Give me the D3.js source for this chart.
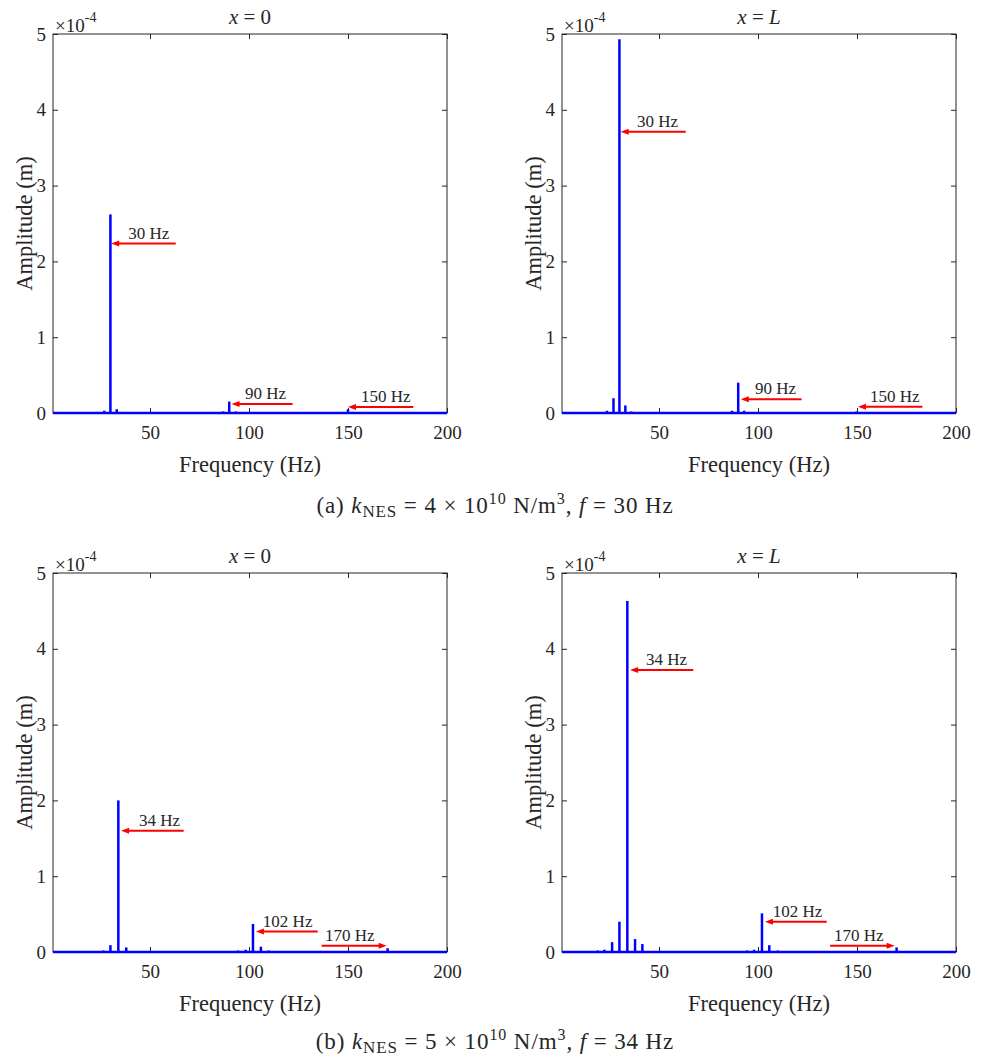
<!DOCTYPE html>
<html lang="en">
<head>
  <meta charset="UTF-8">
  <title>Amplitude spectra</title>
  <script src="https://d3js.org/d3.v7.min.js"></script>
  <style>
    body {
      margin: 0;
      padding: 0;
      background: #fff;
    }
    svg text {
      font-family: 'Liberation Serif', 'Times New Roman', serif;
      fill: #262626;
    }
  </style>
</head>
<body>
  <svg id="chart" width="987" height="1060"></svg>

  <script>
    // axes
    var freqDomain = [1, 200];
    var ampDomain = [0, 5];            // in units of 1e-4 m
    var freqTicks = [50, 100, 150, 200];
    var ampTicks = [0, 1, 2, 3, 4, 5];

    // spectral peaks: frequency (Hz) and amplitude (1e-4 m)
    var freqA0 = [26.9, 30, 33.2, 86.9, 90, 93.3, 146.8, 150];
    var ampA0  = [0.03, 2.62, 0.05, 0.02, 0.15, 0.02, 0.01, 0.05];

    var freqAL = [20.8, 23.7, 27, 30, 33, 36, 86.9, 90, 93, 149.8];
    var ampAL  = [0.01, 0.03, 0.195, 4.93, 0.10, 0.02, 0.03, 0.40, 0.03, 0.02];

    var freqB0 = [26.4, 30, 34, 38, 41.5, 94.5, 98.3, 102, 106, 110, 170, 174];
    var ampB0  = [0.02, 0.09, 2.0, 0.06, 0.01, 0.02, 0.03, 0.37, 0.07, 0.02, 0.05, 0.01];

    var freqBL = [11.6, 15, 19, 22.4, 26.3, 30, 34, 37.9, 41.6, 90.5, 94.5, 98, 102, 105.7, 110, 170, 174];
    var ampBL  = [0.01, 0.01, 0.02, 0.03, 0.13, 0.40, 4.63, 0.17, 0.105, 0.01, 0.02, 0.03, 0.51, 0.09, 0.02, 0.06, 0.01];

    // red arrow annotations: label, arrow level, arrow head / tail frequency, text start
    var notesA0 = [
      {label: '30 Hz',  amp: 2.235, head: 30.4,  tail: 63,    text: 39},
      {label: '90 Hz',  amp: 0.12,  head: 91.2,  tail: 122,   text: 98},
      {label: '150 Hz', amp: 0.08,  head: 150,   tail: 183,   text: 156.6}
    ];
    var notesAL = [
      {label: '30 Hz',  amp: 3.71,  head: 30.6,  tail: 63.5,  text: 38.9},
      {label: '90 Hz',  amp: 0.18,  head: 91.3,  tail: 122,   text: 98.5},
      {label: '150 Hz', amp: 0.083, head: 150.5, tail: 183,   text: 156.6}
    ];
    var notesB0 = [
      {label: '34 Hz',  amp: 1.6,   head: 35.4,  tail: 67,    text: 44.4},
      {label: '102 Hz', amp: 0.27,  head: 103.5, tail: 134.7, text: 107},
      {label: '170 Hz', amp: 0.083, head: 169.5, tail: 136.7, text: 138.4}
    ];
    var notesBL = [
      {label: '34 Hz',  amp: 3.72,  head: 35.4,  tail: 67.3,  text: 43.4},
      {label: '102 Hz', amp: 0.40,  head: 103.5, tail: 134.7, text: 107.4},
      {label: '170 Hz', amp: 0.083, head: 169,   tail: 136.4, text: 138.4}
    ];

    var svg = d3.select('#chart');
    var plotW = 394, plotH = 379;

    function drawPanel(left, top, title, freqs, amps, notes) {
      var g = svg.append('g').attr('transform', 'translate(' + [left, top] + ')');
      var x = d3.scaleLinear().domain(freqDomain).range([0, plotW]);
      var y = d3.scaleLinear().domain(ampDomain).range([plotH, 0]);
      var fmt = d3.format('d');

      // axes with inward ticks, MATLAB box style
      var axB = g.append('g').attr('transform', 'translate(0,' + plotH + ')')
        .call(d3.axisBottom(x).tickValues(freqTicks).tickFormat(fmt)
          .tickSizeInner(-5).tickSizeOuter(0).tickPadding(13));
      var axT = g.append('g')
        .call(d3.axisTop(x).tickValues(freqTicks).tickSizeInner(-5).tickSizeOuter(0).tickFormat(''));
      var axL = g.append('g')
        .call(d3.axisLeft(y).tickValues(ampTicks).tickFormat(fmt)
          .tickSizeInner(-5).tickSizeOuter(0).tickPadding(7));
      var axR = g.append('g').attr('transform', 'translate(' + plotW + ',0)')
        .call(d3.axisRight(y).tickValues(ampTicks).tickSizeInner(-5).tickSizeOuter(0).tickFormat(''));
      [axB, axT, axL, axR].forEach(function(a) {
        a.select('.domain').remove();
        a.selectAll('line').attr('stroke', '#262626');
        a.selectAll('text').style('font-size', '19px').attr('fill', '#262626');
      });
      g.append('rect')
        .attr('width', plotW).attr('height', plotH)
        .attr('fill', 'none').attr('stroke', '#262626').attr('stroke-width', 1);

      // exponent
      var ex = g.append('text').attr('x', 2).attr('y', -2).style('font-size', '19px');
      ex.append('tspan').text('\u00d710');
      ex.append('tspan').attr('dy', -10).style('font-size', '14px').text('-4');

      // title
      var t = g.append('text').attr('x', plotW / 2).attr('y', -10)
        .attr('text-anchor', 'middle').style('font-size', '21px');
      t.append('tspan').style('font-style', 'italic').text('x');
      t.append('tspan').text(' = ');
      if (title === 'L') {
        t.append('tspan').style('font-style', 'italic').text('L');
      } else {
        t.append('tspan').text(title);
      }

      // axis labels
      g.append('text').attr('x', plotW / 2).attr('y', plotH + 59)
        .attr('text-anchor', 'middle').style('font-size', '22.5px').text('Frequency (Hz)');
      g.append('text')
        .attr('transform', 'translate(-21,' + (plotH / 2) + ')rotate(-90)')
        .attr('text-anchor', 'middle').style('font-size', '22.5px').text('Amplitude (m)');

      // spectrum: baseline plus peaks
      g.append('line')
        .attr('x1', x(freqDomain[0])).attr('x2', x(freqDomain[1]))
        .attr('y1', y(0)).attr('y2', y(0))
        .attr('stroke', '#0000ff').attr('stroke-width', 2.5);
      g.selectAll('line.peak')
        .data(d3.zip(freqs, amps)).enter().append('line')
        .classed('peak', true)
        .attr('x1', function(d) {return x(d[0])})
        .attr('x2', function(d) {return x(d[0])})
        .attr('y1', y(0))
        .attr('y2', function(d) {return y(d[1])})
        .attr('stroke', '#0000ff').attr('stroke-width', 2.5);

      // arrows
      var ng = g.selectAll('g.note').data(notes).enter().append('g').classed('note', true);
      ng.append('line')
        .attr('x1', function(d) {return x(d.tail)})
        .attr('x2', function(d) {return x(d.head) + (d.tail > d.head ? 6 : -6)})
        .attr('y1', function(d) {return y(d.amp)})
        .attr('y2', function(d) {return y(d.amp)})
        .attr('stroke', '#ff0000').attr('stroke-width', 2);
      ng.append('path')
        .attr('fill', '#ff0000')
        .attr('d', function(d) {
          var hx = x(d.head), hy = y(d.amp);
          var s = d.tail > d.head ? 1 : -1;
          return 'M' + hx + ',' + hy + 'L' + (hx + s * 8) + ',' + (hy - 3) +
            'L' + (hx + s * 8) + ',' + (hy + 3) + 'Z';
        });
      ng.append('text')
        .attr('x', function(d) {return x(d.text)})
        .attr('y', function(d) {return y(d.amp) - 5})
        .style('font-size', '17px')
        .text(function(d) {return d.label});
    }

    function caption(yPos, tag, k, fval) {
      var c = svg.append('text').attr('x', 495).attr('y', yPos)
        .attr('text-anchor', 'middle').style('font-size', '23px')
        .style('letter-spacing', '0.9px');
      c.append('tspan').text('(' + tag + ') ');
      c.append('tspan').style('font-style', 'italic').text('k');
      c.append('tspan').attr('dy', 4).style('font-size', '17px').text('NES');
      c.append('tspan').attr('dy', -4).text(' = ' + k + ' \u00d7 10');
      c.append('tspan').attr('dy', -9).style('font-size', '16px').text('10');
      c.append('tspan').attr('dy', 9).text(' N/m');
      c.append('tspan').attr('dy', -9).style('font-size', '16px').text('3');
      c.append('tspan').attr('dy', 9).text(', ');
      c.append('tspan').style('font-style', 'italic').text('f');
      c.append('tspan').text(' = ' + fval + ' Hz');
    }

    drawPanel(53, 34, '0', freqA0, ampA0, notesA0);
    drawPanel(562, 34, 'L', freqAL, ampAL, notesAL);
    drawPanel(53, 573, '0', freqB0, ampB0, notesB0);
    drawPanel(562, 573, 'L', freqBL, ampBL, notesBL);

    caption(513, 'a', 4, 30);
    caption(1049, 'b', 5, 34);
  </script>
</body>
</html>
